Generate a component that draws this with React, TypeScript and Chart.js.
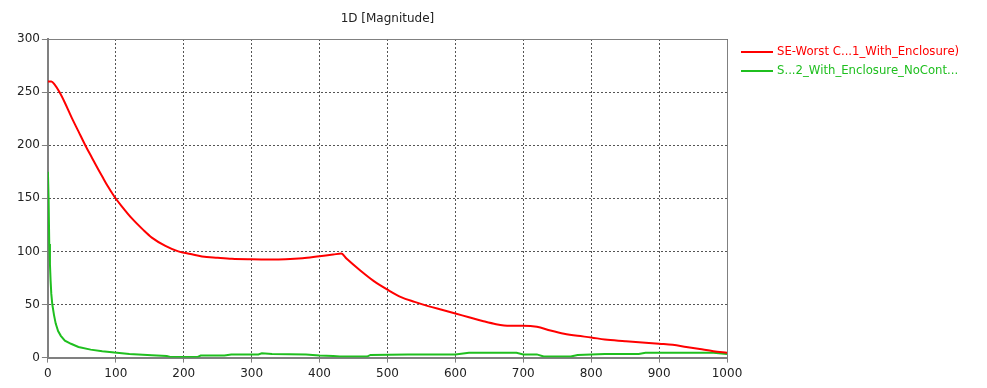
import React, { useEffect, useRef } from "react";
import { Chart, registerables } from "chart.js";

Chart.register(...registerables);

const TITLE = "1D [Magnitude]";
const SERIES_NAMES = ["SE-Worst C...1_With_Enclosure)", "S...2_With_Enclosure_NoCont..."];
const SERIES_COLORS = ["#ff0000", "#1fbf1f"];

const RED_X = [0, 5, 10, 17, 25, 35, 45, 55, 65, 73, 80, 88, 98, 110, 123, 140, 153, 173, 192, 210, 227, 250, 271, 300, 325, 350, 375, 400, 420, 432, 440, 460, 480, 500, 520, 540, 560, 580, 600, 620, 640, 660, 680, 700, 720, 740, 760, 780, 800, 820, 850, 880, 900, 920, 940, 960, 980, 1000];
const RED_Y = [260, 260, 257, 250, 240, 226, 213, 200, 188, 178.5, 170.5, 161.5, 151.5, 141.5, 131.5, 120.5, 113, 105.2, 100, 97.5, 95.3, 94, 93, 92.5, 92.3, 92.5, 93.5, 95.5, 97, 98, 93, 82, 72, 64, 57, 52.5, 48.5, 45, 41.5, 38, 34.5, 31.5, 30, 30, 29, 25.5, 22.5, 20.5, 19, 17, 15.5, 14, 13, 12, 10, 8, 6, 4.5];

const GREEN_X = [0, 1, 2, 3, 4, 5, 6.5, 9, 11.5, 15, 19, 25, 34, 45, 63, 80, 98, 120, 153, 175, 180, 220, 225, 260, 270, 310, 315, 330, 380, 400, 420, 430, 470, 475, 530, 600, 620, 690, 700, 720, 730, 770, 780, 800, 820, 870, 880, 980, 1000];
const GREEN_Y = [175, 150, 107, 88, 72, 60, 50, 40, 32, 25, 20.5, 16, 13, 10, 7.5, 6, 4.7, 3.5, 2.3, 1.5, 0.5, 0.5, 2, 2, 3, 3, 4, 3.5, 3, 2, 1.5, 1, 1, 2.5, 3, 3, 4.5, 4.5, 3, 3, 1, 1, 2.5, 3, 3.5, 3.5, 4.5, 4.5, 3.5];

const X_MIN = 0;
const X_MAX = 1000;
const X_STEP = 100;
const Y_MIN = 0;
const Y_MAX = 300;
const Y_STEP = 50;

const FONT = "'DejaVu Sans', sans-serif";

const framePlugin = {
  id: "frame",
  beforeDatasetsDraw(chart: any) {
    const { ctx, chartArea } = chart;
    ctx.save();
    ctx.strokeStyle = "#808080";
    ctx.lineWidth = 1;
    ctx.beginPath();
    ctx.moveTo(chartArea.left, chartArea.top + 0.5);
    ctx.lineTo(chartArea.right + 0.5, chartArea.top + 0.5);
    ctx.lineTo(chartArea.right + 0.5, chartArea.bottom);
    ctx.stroke();
    ctx.restore();
  },
};

const sideLegendPlugin = {
  id: "sideLegend",
  afterDraw(chart: any) {
    const { ctx, chartArea } = chart;
    const lineStart = chartArea.right + 14;
    const lineLen = 32;
    const textGap = 4;
    const firstOffset = 13;
    const step = 18.5;
    ctx.save();
    ctx.font = `11.7px ${FONT}`;
    ctx.textBaseline = "middle";
    ctx.textAlign = "left";
    chart.data.datasets.forEach((ds: any, i: number) => {
      const y = Math.round(chartArea.top + firstOffset + i * step);
      ctx.strokeStyle = ds.borderColor;
      ctx.lineWidth = 2;
      ctx.beginPath();
      ctx.moveTo(lineStart, y);
      ctx.lineTo(lineStart + lineLen, y);
      ctx.stroke();
      ctx.fillStyle = ds.borderColor;
      ctx.fillText(ds.label, lineStart + lineLen + textGap, y);
    });
    ctx.restore();
  },
};

export default function App() {
  const ref = useRef<HTMLCanvasElement | null>(null);
  useEffect(() => {
    if (!ref.current) return;
    const red = RED_X.map((x, i) => ({ x, y: RED_Y[i] }));
    const green = GREEN_X.map((x, i) => ({ x, y: GREEN_Y[i] }));
    const chart = new Chart(ref.current, {
      type: "line",
      data: {
        datasets: [
          { label: SERIES_NAMES[0], data: red, borderColor: SERIES_COLORS[0], backgroundColor: SERIES_COLORS[0], borderWidth: 2, pointRadius: 0, cubicInterpolationMode: "monotone" },
          { label: SERIES_NAMES[1], data: green, borderColor: SERIES_COLORS[1], backgroundColor: SERIES_COLORS[1], borderWidth: 2, pointRadius: 0, tension: 0 },
        ],
      },
      options: {
        animation: false,
        responsive: false,
        layout: { padding: { left: 15, right: 260, bottom: 3, top: 0 } },
        plugins: {
          title: {
            display: true,
            fullSize: false,
            text: TITLE,
            color: "#222",
            font: { family: FONT, size: 12, weight: "normal" },
            padding: { top: 12, bottom: 12.6 },
          },
          legend: { display: false },
          tooltip: { enabled: false },
        },
        scales: {
          x: {
            type: "linear",
            min: X_MIN,
            max: X_MAX,
            ticks: { stepSize: X_STEP, color: "#222", font: { family: FONT, size: 12 }, padding: 4, maxRotation: 0, callback: (v: any) => String(v) },
            grid: { color: "#555", lineWidth: 1, tickLength: 5, tickColor: "#808080", drawTicks: true },
            border: { display: true, color: "#808080", width: 2, dash: [2, 2] },
          },
          y: {
            type: "linear",
            min: Y_MIN,
            max: Y_MAX,
            ticks: { stepSize: Y_STEP, color: "#222", font: { family: FONT, size: 12 }, padding: 2, callback: (v: any) => String(v) },
            grid: { color: "#555", lineWidth: 1, tickLength: 6, tickColor: "#808080", drawTicks: true },
            border: { display: true, color: "#808080", width: 2, dash: [2, 2] },
          },
        },
      },
      plugins: [framePlugin, sideLegendPlugin],
    });
    return () => chart.destroy();
  }, []);
  return (
    <div style={{ position: "absolute", left: 0, top: 0, width: 987, height: 388, background: "#fff" }}>
      <canvas ref={ref} width={987} height={388} />
    </div>
  );
}
